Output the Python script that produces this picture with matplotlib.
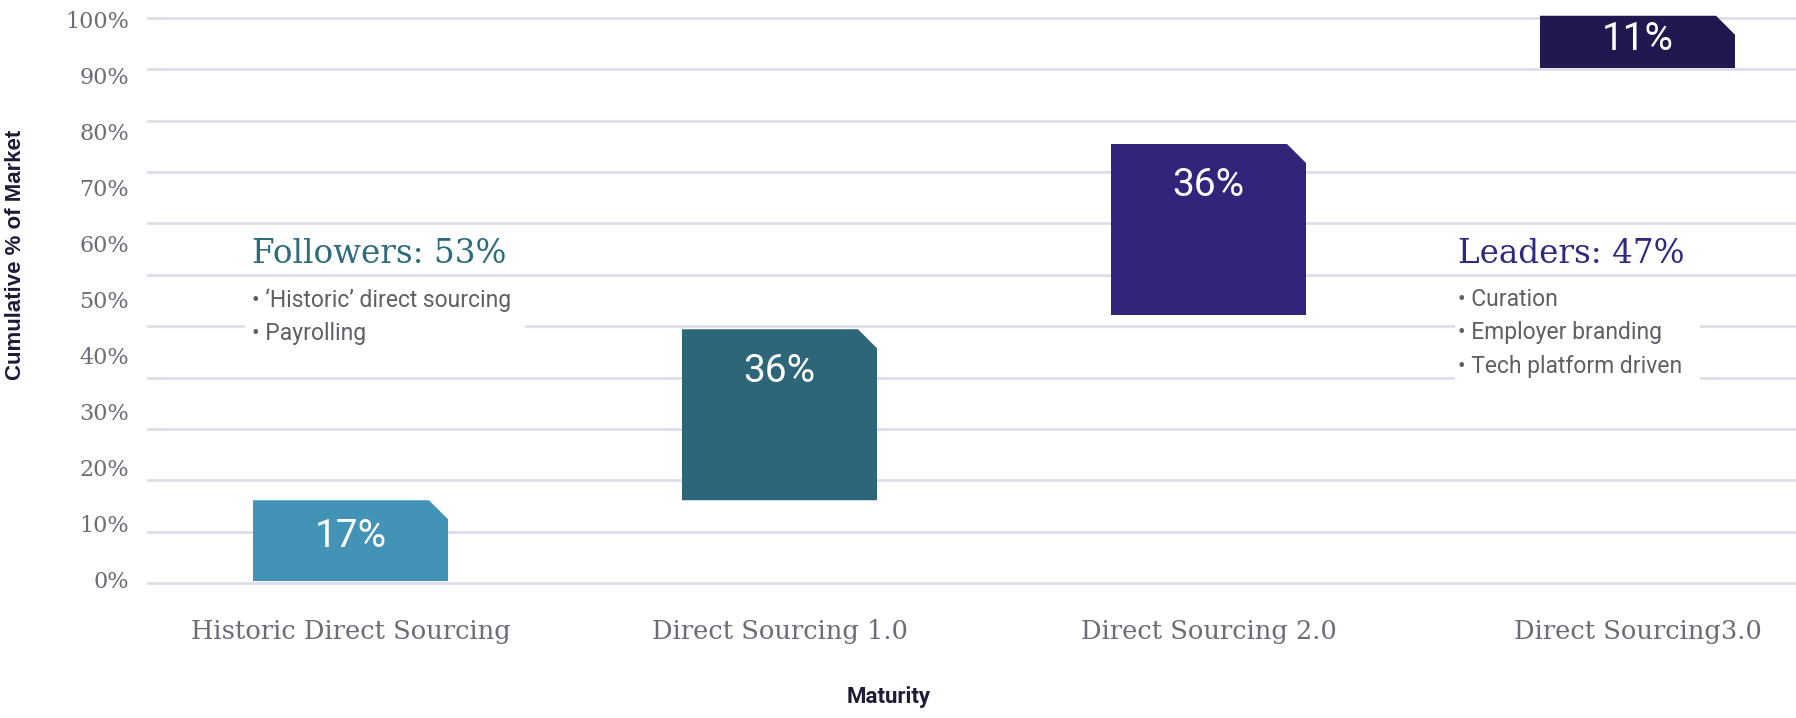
import numpy as np
import matplotlib.pyplot as plt
from matplotlib.patches import Polygon, Rectangle

# data
categories = ["Historic Direct Sourcing", "Direct Sourcing 1.0",
              "Direct Sourcing 2.0", "Direct Sourcing3.0"]
shares = [17, 36, 36, 11]
bar_bottoms = [0, 17, 56, 108]
pct_ticks = [0, 10, 20, 30, 40, 50, 60, 70, 80, 90, 100]
followers_title = "Followers: 53%"
followers_items = ["\u2018Historic\u2019 direct sourcing", "Payrolling"]
leaders_title = "Leaders: 47%"
leaders_items = ["Curation", "Employer branding", "Tech platform driven"]

bar_colors = ["#4393b6", "#2d6679", "#32247a", "#211850"]
grid_c = "#dddce8"
tick_c = "#6d6c76"
dark = "#1d1b38"

W, H = 1796, 718
fig = plt.figure(figsize=(W / 100, H / 100), dpi=100)

def fx(p):
    return p / W

def fy(p):
    return 1 - p / H

# axes box in pixels
L, T, B = 147, 14, 588
ax = fig.add_axes([fx(L), fy(B), 1 - fx(L), (B - T) / H])

# vertical scale: 0 sits at 581px, 4.75px per percent point
def py(p):
    return (581 - p) / 4.75

# horizontal: category 0 at 350px, 429px per category
xpx = 429.0
ax.set_ylim(py(B), py(T))
ax.set_xlim((L - 350.5) / xpx, (W - 350.5) / xpx)
for s in ax.spines.values():
    s.set_visible(False)

ax.set_yticks(py(np.linspace(583, 18, 12)))
ax.yaxis.set_ticklabels([])
ax.grid(axis="y", color=grid_c, lw=1.9)
ax.set_axisbelow(True)
ax.tick_params(axis="both", length=0)
ax.set_xticks(range(len(categories)))
ax.set_xticklabels(categories, family="DejaVu Serif", fontsize=18.5, color=tick_c)
ax.tick_params(axis="x", pad=22)

# tick labels live on their own 0-100 scale
lab = ax.twinx()
lab.yaxis.tick_left()
lab.set_ylim((580 - B) / 5.6, 100 + (20 - T) / 5.6)
lab.set_yticks(pct_ticks)
lab.set_yticklabels([f"{v}%" for v in pct_ticks], family="DejaVu Serif",
                    fontsize=16, color=tick_c)
lab.tick_params(axis="y", length=0, pad=13)
lab.tick_params(axis="x", length=0)
for s in lab.spines.values():
    s.set_visible(False)

bars = ax.bar(range(len(shares)), shares, bottom=bar_bottoms, width=195 / xpx,
              color=bar_colors, zorder=2)

# cut the top-right corner of each bar (19px at 45 degrees)
cx = 19 / xpx
cy = 19 / 4.75
for rect, col in zip(bars, bar_colors):
    x0, y0 = rect.get_x(), rect.get_y()
    w, h = rect.get_width(), rect.get_height()
    poly = Polygon([(x0, y0), (x0 + w, y0), (x0 + w, y0 + h - cy),
                    (x0 + w - cx, y0 + h), (x0, y0 + h)],
                   closed=True, facecolor=col, edgecolor="none", zorder=2)
    ax.add_patch(poly)
    rect.remove()
    off = min(8.8, h * 0.45)
    ax.text(x0 + w / 2, y0 + h - off, f"{int(round(h))}%", ha="center",
            va="center", color="white", fontsize=28, family="Roboto", zorder=3)

# annotation blocks
fig.patches.append(Rectangle((fx(245), fy(355)), fx(525) - fx(245), (355 - 285) / H,
                             transform=fig.transFigure, facecolor="white",
                             edgecolor="none", zorder=1))
fig.patches.append(Rectangle((fx(1455), fy(392)), fx(1700) - fx(1455), (392 - 285) / H,
                             transform=fig.transFigure, facecolor="white",
                             edgecolor="none", zorder=1))

fig.text(fx(252), fy(263), followers_title, family="DejaVu Serif", fontsize=23.5,
         color="#2e6b7b", va="baseline")
for i, t in enumerate(followers_items):
    fig.text(fx(252), fy(307 + 33.5 * i), "\u2022 " + t, family="Roboto",
             fontsize=16.5, color="#5f5f66", va="baseline")

fig.text(fx(1458), fy(263), leaders_title, family="DejaVu Serif", fontsize=23.5,
         color="#2f2a80", va="baseline")
for i, t in enumerate(leaders_items):
    fig.text(fx(1458), fy(306 + 33.5 * i), "\u2022 " + t, family="Roboto",
             fontsize=16.5, color="#5f5f66", va="baseline")

fig.text(fx(16), fy(255), "Cumulative % of Market", rotation=90, ha="center",
         va="center", family="Liberation Sans", fontweight="bold", fontsize=16,
         color=dark)
fig.text(fx(889), fy(697), "Maturity", ha="center", va="center",
         family="Roboto", fontweight="bold", fontsize=16, color=dark)

fig.savefig("out.png", dpi=100)
